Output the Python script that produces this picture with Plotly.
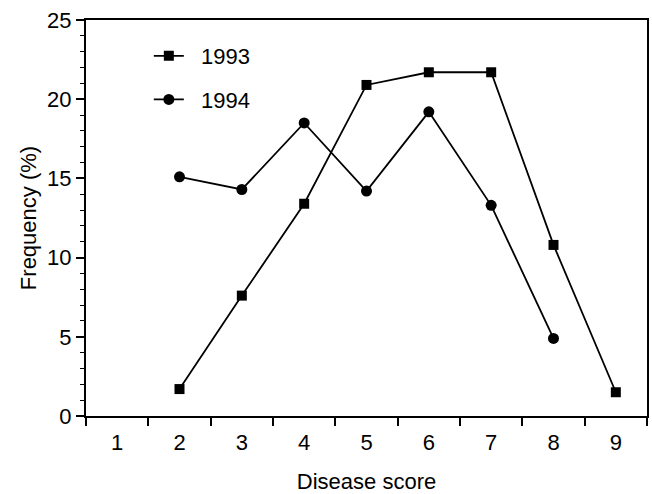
import plotly.graph_objects as go

scores = [1, 2, 3, 4, 5, 6, 7, 8, 9]
x1993 = [2, 3, 4, 5, 6, 7, 8, 9]
y1993 = [1.7, 7.6, 13.4, 20.9, 21.7, 21.7, 10.8, 1.5]
x1994 = [2, 3, 4, 5, 6, 7, 8]
y1994 = [15.1, 14.3, 18.5, 14.2, 19.2, 13.3, 4.9]
y_ticks = [0, 5, 10, 15, 20, 25]

FS = 22
font = dict(family="Liberation Sans, Arial, sans-serif", size=FS, color="black")

fig = go.Figure()
fig.add_trace(go.Scatter(x=x1993, y=y1993, name="\u00a0\u00a01993", legendgroup="a",
                         mode="lines+markers",
                         line=dict(color="black", width=1.8),
                         marker=dict(symbol="square", size=10, color="black")))
fig.add_trace(go.Scatter(x=x1994, y=y1994, name="\u00a0\u00a01994", legendgroup="b",
                         mode="lines+markers",
                         line=dict(color="black", width=1.8),
                         marker=dict(symbol="circle", size=11, color="black")))

fig.update_layout(
    width=652, height=494,
    margin=dict(l=86, r=3, t=20, b=77),
    paper_bgcolor="white", plot_bgcolor="white",
    font=font,
    showlegend=True,
    legend=dict(x=0.112, y=0.962, xanchor="left", yanchor="top",
                bgcolor="rgba(0,0,0,0)", font=dict(size=FS),
                tracegroupgap=12, itemwidth=30),
    xaxis=dict(range=[0.5, 9.5], tickvals=scores, ticks="", showgrid=False,
               zeroline=False, showline=True, linecolor="black", linewidth=2,
               mirror=True, tickfont=dict(size=FS), ticklabelstandoff=6,
               minor=dict(tickvals=[s + 0.5 for s in [0] + scores], ticks="outside",
                          ticklen=8, tickcolor="black", tickwidth=1.5, showgrid=False),
               title=dict(text="Disease score", font=dict(size=FS), standoff=20)),
    yaxis=dict(range=[0, 25], tickvals=y_ticks, ticks="outside", ticklen=8,
               tickcolor="black", tickwidth=1.5, showgrid=False, zeroline=False,
               showline=True, linecolor="black", linewidth=2, mirror=True,
               tickfont=dict(size=FS),
               minor=dict(dtick=1, ticks="outside", ticklen=4, tickcolor="black",
                          tickwidth=1, showgrid=False),
               title=dict(text="Frequency (%)", font=dict(size=FS), standoff=4)),
)

fig.write_html("out.html")
